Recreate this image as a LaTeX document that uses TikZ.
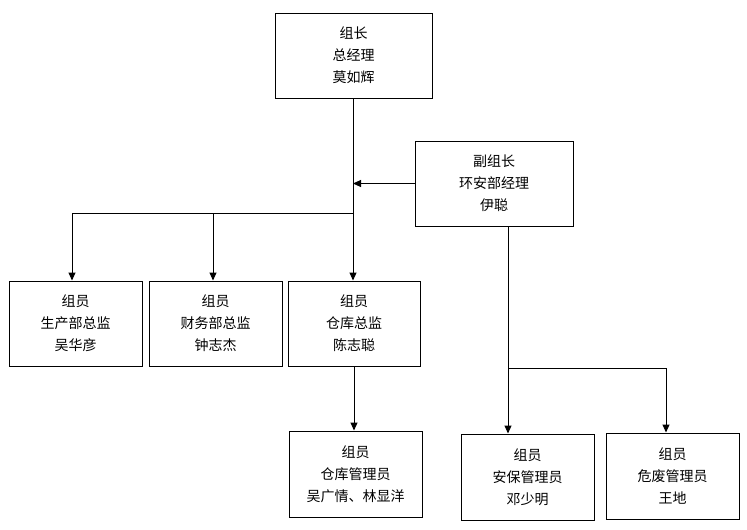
\documentclass[tikz,border=0pt]{standalone}
\usepackage{fontspec}
\setmainfont{Noto Sans CJK SC}
\usetikzlibrary{arrows.meta}
\tikzset{
  box/.style={draw, line width=1pt, align=center, minimum width=133pt, minimum height=85pt, inner sep=0pt, font=\fontsize{14pt}{22pt}\selectfont},
  conn/.style={line width=1pt},
  arr/.style={line width=1pt, -{Triangle[length=8pt,width=7pt]}}
}
\begin{document}
\begin{tikzpicture}[x=1pt,y=-1pt]
\useasboundingbox (0,0) rectangle (747,530);
\node[box, minimum width=157pt] (top) at (353.5,55.5) {组长\\总经理\\莫如辉};
\node[box, minimum width=158pt] (vice) at (494,183.5) {副组长\\环安部经理\\伊聪};
\node[box] (b1) at (75.5,323.5) {组员\\生产部总监\\吴华彦};
\node[box] (b2) at (215.5,323.5) {组员\\财务部总监\\钟志杰};
\node[box, minimum width=132pt] (b3) at (354,323.5) {组员\\仓库总监\\陈志聪};
\node[box, minimum height=86pt] (b4) at (355.5,474) {组员\\仓库管理员\\吴广情、林显洋};
\node[box, minimum height=86pt] (b5) at (527.5,477) {组员\\安保管理员\\邓少明};
\node[box, minimum height=86pt] (b6) at (672.5,476) {组员\\危废管理员\\王地};
\coordinate (j) at (353,213);
\coordinate (d1) at (72,213);
\coordinate (d2) at (213,213);
\coordinate (vs) at (508,226);
\coordinate (k) at (508,368);
\coordinate (d6) at (666,368);
\draw[arr] (top.south -| j) -- (j |- b3.north);
\draw[arr] (vice.west) -- (j |- vice.west);
\draw[conn] (j) -- (d1);
\draw[arr] (d1) -- (d1 |- b1.north);
\draw[arr] (d2) -- (d2 |- b2.north);
\draw[arr] (b3.south) -- (b3.south |- b4.north);
\draw[arr] (vs) -- (vs |- b5.north);
\draw[conn] (k) -- (d6);
\draw[arr] (d6) -- (d6 |- b6.north);
\end{tikzpicture}
\end{document}
